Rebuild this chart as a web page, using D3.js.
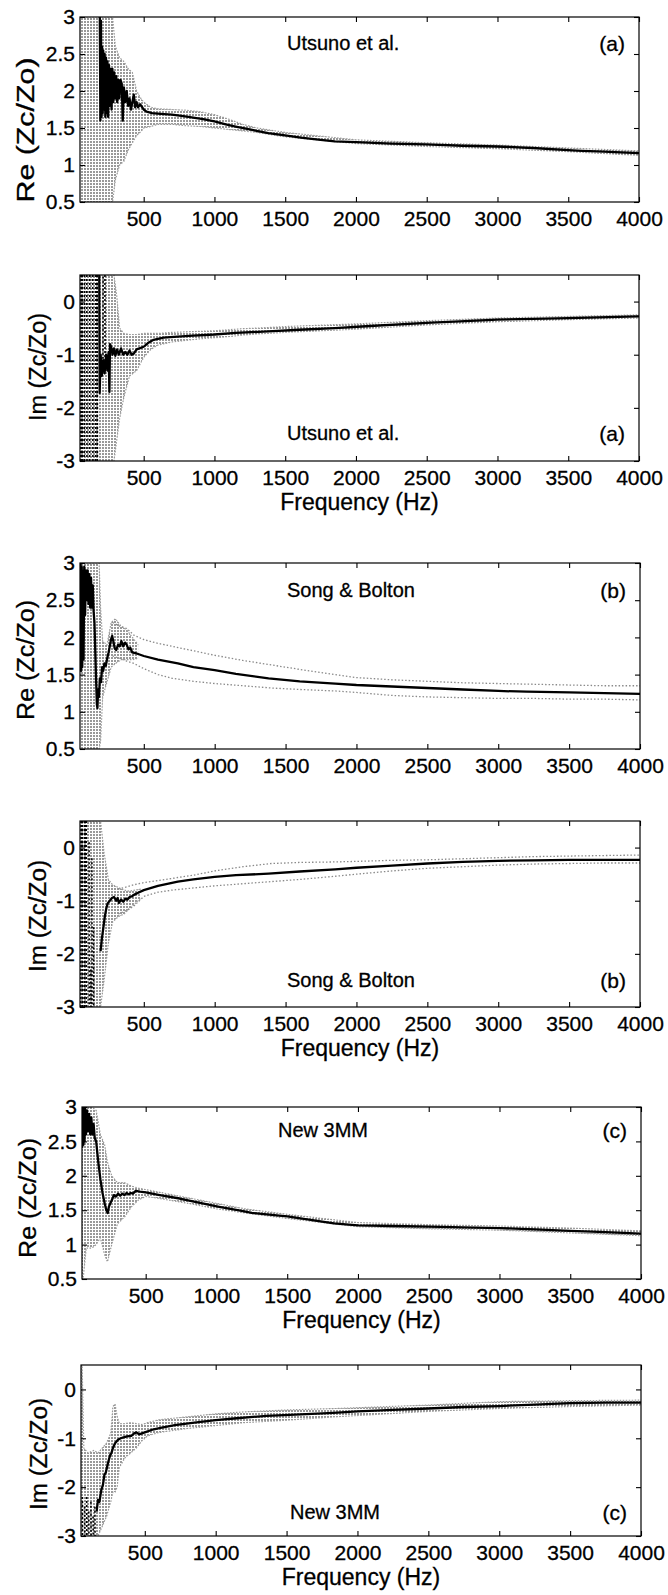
<!DOCTYPE html>
<html>
<head>
<meta charset="utf-8">
<script src="https://cdn.jsdelivr.net/npm/d3@7"></script>
<style>
  body { margin: 0; background: #fff; }
  svg { display: block; background: #fff; }
  text { font-family: "Liberation Sans", Arial, Helvetica, sans-serif; fill: #000; stroke: #000; stroke-width: 0.3px; }
</style>
</head>
<body>
<svg id="fig" width="668" height="1595"></svg>
<script>
// ---- shared axis values ----
var xDomain = [50, 4000],
    xTickVals = [500, 1000, 1500, 2000, 2500, 3000, 3500, 4000],
    reDomain = [0.5, 3],
    imDomain = [-3, 0.5],
    reTicks = [0.5, 1, 1.5, 2, 2.5, 3],
    imTicks = [-3, -2, -1, 0];

// ---- (a) Utsuno et al., real part ----
var reA_meanF = [190, 194, 198, 202, 206, 210, 214, 219, 224, 229, 234, 239, 244, 249, 255, 261, 267, 273, 279, 285, 292, 299, 306, 313, 320, 328, 336, 345, 352, 360, 370, 380, 390, 400, 410, 420, 430, 440, 450, 460, 475, 490, 500, 520, 560, 620, 700, 780, 850, 920, 1000, 1080, 1150, 1250, 1380, 1500, 1610, 1750, 1850, 2000, 2250, 2500, 2750, 3000, 3250, 3500, 3600, 3750, 4000];
var reA_mean  = [3.0, 1.6, 2.95, 1.65, 2.6, 1.7, 2.55, 1.75, 2.5, 1.65, 2.45, 1.7, 2.4, 1.65, 2.35, 1.8, 2.3, 1.75, 2.3, 1.85, 2.25, 1.9, 2.2, 1.85, 2.15, 1.9, 2.15, 2.1, 1.6, 2.05, 1.85, 2.0, 1.8, 1.9, 1.75, 1.85, 1.95, 1.78, 1.85, 1.78, 1.82, 1.78, 1.75, 1.72, 1.7, 1.69, 1.68, 1.66, 1.64, 1.62, 1.59, 1.55, 1.52, 1.48, 1.43, 1.4, 1.37, 1.34, 1.32, 1.31, 1.29, 1.28, 1.26, 1.25, 1.23, 1.2, 1.19, 1.18, 1.16];
var reA_cloudF  = [54, 100, 150, 200, 240, 280, 300, 330, 360, 390, 420, 450, 480, 500, 550, 600, 700, 800, 900, 1000, 1100, 1200, 1300, 1500, 2000, 2500, 3000, 3500, 4000];
var reA_cloudHi = [3, 3, 3, 3, 3, 3, 2.6, 2.45, 2.4, 2.3, 2.25, 2.0, 1.9, 1.85, 1.78, 1.76, 1.75, 1.74, 1.72, 1.68, 1.62, 1.55, 1.5, 1.44, 1.34, 1.3, 1.27, 1.23, 1.19];
var reA_cloudLo = [0.5, 0.5, 0.5, 0.5, 0.5, 0.5, 0.8, 1.0, 1.05, 1.2, 1.3, 1.4, 1.45, 1.5, 1.52, 1.55, 1.55, 1.53, 1.52, 1.5, 1.48, 1.46, 1.44, 1.38, 1.29, 1.25, 1.22, 1.18, 1.13];

// ---- (a) Utsuno et al., imaginary part ----
var imA_meanF = [186, 189, 196, 204, 214, 224, 234, 244, 252, 258, 262, 270, 280, 290, 300, 312, 325, 340, 355, 370, 385, 400, 415, 430, 450, 470, 500, 530, 570, 640, 740, 850, 1000, 1150, 1380, 1600, 1850, 2100, 2500, 3000, 3500, 4000];
var imA_mean  = [0.5, -1.72, -1.0, -1.4, -1.1, -1.35, -1.0, -1.3, -0.95, -1.7, -0.8, -0.85, -1.0, -0.88, -1.02, -0.9, -1.0, -0.88, -1.0, -0.95, -1.0, -0.92, -1.0, -0.98, -0.9, -0.88, -0.85, -0.78, -0.72, -0.68, -0.66, -0.64, -0.62, -0.59, -0.56, -0.53, -0.5, -0.46, -0.4, -0.34, -0.31, -0.28];
var imA_noiseF = [56, 57, 57, 66, 67, 67, 80, 81, 81, 98, 99, 99, 118, 119, 119, 140, 141, 141, 160, 161, 161, 172, 173, 173, 212, 213, 213, 226, 227];
var imA_noise  = [-3, 0.5, null, 0.5, -3, null, -3, 0.5, null, 0.5, -3, null, -3, 0.5, null, 0.5, -3, null, -3, 0.5, null, 0.5, -3, null, -1.3, 0.5, null, 0.5, -1.3];
var imA_cloudF  = [54, 100, 150, 200, 250, 290, 310, 330, 360, 400, 450, 500, 550, 600, 700, 800, 900, 1000, 1100, 1200, 1300, 1500, 2000, 2500, 3000, 3500, 4000];
var imA_cloudHi = [0.5, 0.5, 0.5, 0.5, 0.5, 0.5, 0.1, -0.5, -0.6, -0.62, -0.62, -0.6, -0.6, -0.6, -0.58, -0.57, -0.56, -0.55, -0.53, -0.51, -0.5, -0.47, -0.42, -0.36, -0.31, -0.28, -0.25];
var imA_cloudLo = [-3, -3, -3, -3, -3, -3, -2.6, -2.2, -1.8, -1.4, -1.3, -1.05, -0.9, -0.82, -0.76, -0.73, -0.7, -0.68, -0.66, -0.63, -0.61, -0.58, -0.52, -0.44, -0.38, -0.34, -0.31];

// ---- (b) Song & Bolton, real part ----
var reB_meanF = [54, 58, 62, 66, 70, 75, 80, 86, 92, 98, 104, 110, 116, 122, 128, 134, 140, 146, 152, 158, 164, 169, 173, 178, 184, 190, 198, 206, 214, 222, 232, 242, 252, 262, 270, 277, 285, 295, 305, 318, 330, 342, 355, 368, 380, 392, 405, 418, 440, 470, 500, 600, 740, 850, 1000, 1150, 1380, 1600, 1850, 2000, 2250, 2500, 2750, 3000, 3200, 3500, 3750, 4000];
var reB_mean  = [3.0, 1.55, 2.95, 1.6, 2.9, 1.7, 2.95, 2.3, 2.9, 2.5, 2.9, 2.45, 2.85, 2.4, 2.8, 2.4, 2.7, 2.35, 2.2, 1.8, 1.4, 1.1, 1.05, 1.3, 1.2, 1.45, 1.4, 1.6, 1.55, 1.65, 1.62, 1.72, 1.8, 1.9, 1.98, 2.02, 1.95, 1.85, 1.83, 1.9, 1.88, 1.95, 1.88, 1.93, 1.9, 1.84, 1.86, 1.8, 1.79, 1.77, 1.75, 1.7, 1.65, 1.6, 1.56, 1.51, 1.45, 1.41, 1.38, 1.36, 1.34, 1.32, 1.3, 1.28, 1.27, 1.26, 1.25, 1.24];
var reB_cloudF  = [54, 80, 100, 130, 160, 185, 195, 210, 240, 270, 300, 340, 380, 420, 460];
var reB_cloudHi = [3, 3, 3, 3, 3, 3, 2.4, 1.95, 1.9, 2.2, 2.25, 2.15, 2.1, 2.0, 1.9];
var reB_cloudLo = [0.5, 0.5, 0.5, 0.5, 0.5, 0.5, 0.6, 1.2, 1.4, 1.6, 1.65, 1.7, 1.7, 1.7, 1.72];
var reB_boundF  = [280, 330, 380, 430, 500, 600, 700, 850, 1000, 1200, 1400, 1600, 1850, 2000, 2250, 2500, 2750, 3000, 3250, 3500, 3750, 4000];
var reB_boundHi = [2.2, 2.15, 2.12, 2.03, 1.97, 1.92, 1.88, 1.82, 1.76, 1.69, 1.63, 1.57, 1.5, 1.46, 1.43, 1.41, 1.39, 1.38, 1.37, 1.36, 1.35, 1.35];
var reB_boundLo = [1.75, 1.72, 1.68, 1.65, 1.58, 1.5, 1.45, 1.41, 1.38, 1.35, 1.32, 1.3, 1.28, 1.26, 1.22, 1.2, 1.19, 1.18, 1.18, 1.17, 1.17, 1.16];

// ---- (b) Song & Bolton, imaginary part ----
var imB_meanF = [195, 205, 215, 225, 235, 245, 260, 275, 290, 305, 315, 325, 340, 355, 370, 385, 400, 415, 430, 460, 500, 600, 740, 850, 1000, 1150, 1380, 1600, 1850, 2000, 2250, 2500, 2750, 3000, 3250, 3500, 3750, 4000];
var imB_mean  = [-1.95, -1.7, -1.5, -1.3, -1.15, -1.05, -1.0, -0.95, -0.93, -1.0, -0.95, -1.04, -0.98, -1.02, -0.96, -0.98, -0.93, -0.92, -0.89, -0.85, -0.8, -0.72, -0.64, -0.6, -0.55, -0.52, -0.49, -0.45, -0.41, -0.38, -0.34, -0.3, -0.27, -0.25, -0.24, -0.23, -0.23, -0.23];
var imB_noiseF = [56, 57, 57, 68, 69, 69, 82, 83, 83, 94, 95, 95, 114, 115, 115, 126, 127, 127, 134, 135, 135, 146, 147];
var imB_noise  = [-3, 0.5, null, 0.5, -3, null, -3, 0.5, null, 0.5, -3, null, 0.1, -3, null, -2.3, -3, null, -0.2, -3, null, -1.5, -3];
var imB_cloudF  = [54, 100, 150, 195, 220, 250, 280, 320, 360, 400, 440, 480];
var imB_cloudHi = [0.5, 0.5, 0.5, 0.5, -0.1, -0.6, -0.7, -0.75, -0.8, -0.82, -0.8, -0.78];
var imB_cloudLo = [-3, -3, -3, -3, -2.5, -1.8, -1.4, -1.3, -1.25, -1.15, -1.05, -0.95];
var imB_boundF  = [320, 380, 430, 500, 600, 700, 850, 1000, 1200, 1400, 1600, 1850, 2000, 2250, 2500, 2750, 3000, 3250, 3500, 3750, 4000];
var imB_boundHi = [-0.78, -0.74, -0.7, -0.66, -0.62, -0.58, -0.52, -0.44, -0.36, -0.3, -0.28, -0.27, -0.26, -0.24, -0.23, -0.21, -0.19, -0.17, -0.16, -0.15, -0.14];
var imB_boundLo = [-1.25, -1.18, -1.1, -0.92, -0.84, -0.8, -0.76, -0.72, -0.68, -0.64, -0.6, -0.54, -0.5, -0.44, -0.39, -0.36, -0.33, -0.31, -0.3, -0.29, -0.29];

// ---- (c) New 3MM, real part ----
var reC_meanF = [48, 52, 56, 60, 64, 68, 72, 78, 85, 92, 100, 108, 116, 124, 132, 140, 150, 165, 180, 195, 210, 222, 232, 240, 250, 262, 275, 290, 305, 320, 335, 350, 365, 380, 395, 410, 430, 460, 500, 600, 740, 850, 1020, 1150, 1250, 1500, 1830, 2000, 2250, 2500, 2750, 3000, 3250, 3500, 3750, 4000];
var reC_mean  = [3.0, 2.42, 2.95, 2.45, 3.0, 2.5, 2.98, 2.6, 2.95, 2.65, 2.9, 2.6, 2.85, 2.6, 2.75, 2.55, 2.5, 2.2, 1.95, 1.75, 1.6, 1.5, 1.46, 1.55, 1.6, 1.65, 1.72, 1.7, 1.74, 1.71, 1.74, 1.72, 1.75, 1.73, 1.75, 1.74, 1.78, 1.77, 1.76, 1.72, 1.67, 1.62, 1.55, 1.5, 1.46, 1.41, 1.31, 1.28, 1.27, 1.26, 1.25, 1.24, 1.22, 1.2, 1.18, 1.16];
var reC_cloudF  = [47, 58, 80, 120, 150, 180, 210, 230, 260, 300, 350, 400, 450, 500, 600, 800, 1000, 1200, 1500, 2000, 2500, 3000, 3500, 4000];
var reC_cloudHi = [3, 3, 3, 3, 2.95, 2.6, 2.45, 2.2, 2.0, 1.9, 1.9, 1.85, 1.82, 1.8, 1.76, 1.68, 1.6, 1.52, 1.44, 1.32, 1.29, 1.27, 1.24, 1.2];
var reC_cloudLo = [0.5, 0.5, 0.95, 0.95, 1.0, 1.1, 0.85, 0.75, 1.0, 1.3, 1.4, 1.55, 1.65, 1.7, 1.67, 1.6, 1.52, 1.46, 1.38, 1.26, 1.23, 1.21, 1.17, 1.13];

// ---- (c) New 3MM, imaginary part ----
var imC_meanF = [160, 170, 180, 193, 205, 215, 225, 240, 255, 265, 275, 290, 311, 330, 350, 375, 405, 425, 441, 460, 480, 500, 547, 620, 712, 850, 1000, 1150, 1360, 1600, 1830, 2000, 2250, 2500, 2750, 3000, 3250, 3500, 3750, 4000];
var imC_mean  = [-2.5, -2.26, -2.3, -2.06, -1.95, -1.75, -1.7, -1.51, -1.35, -1.3, -1.2, -1.1, -1.03, -1.0, -0.98, -0.96, -0.95, -0.9, -0.88, -0.92, -0.9, -0.88, -0.83, -0.78, -0.73, -0.68, -0.63, -0.59, -0.54, -0.51, -0.48, -0.45, -0.42, -0.39, -0.36, -0.34, -0.31, -0.28, -0.27, -0.27];
var imC_noiseF = [60, 61, 61, 75, 76, 76, 90, 91, 91, 105, 106, 106, 120, 121, 121, 135, 136, 136, 148, 149];
var imC_noise  = [-2.2, -3, null, -2.4, -3, null, -2.2, -3, null, -2.5, -3, null, -2.3, -3, null, -2.6, -3, null, -2.4, -3];
var imC_cloudF  = [47, 58, 70, 100, 140, 170, 200, 230, 260, 275, 290, 305, 320, 360, 400, 440, 480, 520, 600, 800, 1000, 1200, 1500, 1850, 2500, 3000, 3500, 4000];
var imC_cloudHi = [0.5, 0.5, -1.2, -1.3, -1.25, -1.3, -1.2, -1.1, -0.9, -0.35, -0.3, -0.55, -0.7, -0.7, -0.68, -0.7, -0.72, -0.68, -0.62, -0.56, -0.5, -0.46, -0.42, -0.39, -0.32, -0.25, -0.23, -0.22];
var imC_cloudLo = [-3, -3, -3, -3, -3, -3, -2.8, -2.6, -2.3, -2.1, -2.1, -2.0, -1.6, -1.4, -1.3, -1.2, -1.05, -0.95, -0.88, -0.8, -0.74, -0.68, -0.63, -0.56, -0.45, -0.39, -0.35, -0.32];

// series table built from the arrays above
var series = {
    reA: {meanF: reA_meanF, mean: reA_mean, cloudF: reA_cloudF, cloudHi: reA_cloudHi, cloudLo: reA_cloudLo},
    imA: {meanF: imA_meanF, mean: imA_mean, cloudF: imA_cloudF, cloudHi: imA_cloudHi, cloudLo: imA_cloudLo, noiseF: imA_noiseF, noise: imA_noise},
    reB: {meanF: reB_meanF, mean: reB_mean, cloudF: reB_cloudF, cloudHi: reB_cloudHi, cloudLo: reB_cloudLo, boundF: reB_boundF, boundHi: reB_boundHi, boundLo: reB_boundLo},
    imB: {meanF: imB_meanF, mean: imB_mean, cloudF: imB_cloudF, cloudHi: imB_cloudHi, cloudLo: imB_cloudLo, noiseF: imB_noiseF, noise: imB_noise, boundF: imB_boundF, boundHi: imB_boundHi, boundLo: imB_boundLo},
    reC: {meanF: reC_meanF, mean: reC_mean, cloudF: reC_cloudF, cloudHi: reC_cloudHi, cloudLo: reC_cloudLo},
    imC: {meanF: imC_meanF, mean: imC_mean, cloudF: imC_cloudF, cloudHi: imC_cloudHi, cloudLo: imC_cloudLo, noiseF: imC_noiseF, noise: imC_noise}
};

// panel layout (pixels)
var layout = [
    {key: "reA", im: false, top: 17,   bottom: 202,  left: 80, right: 639, name: "Utsuno et al.", tag: "(a)", nameX: 287, textY: 43,   labX: 26, labY: 130,  labLen: 145, freq: false},
    {key: "imA", im: true,  top: 275,  bottom: 461,  left: 80, right: 639, name: "Utsuno et al.", tag: "(a)", nameX: 287, textY: 433,  labX: 38, labY: 367,  labLen: 108, freq: true},
    {key: "reB", im: false, top: 563,  bottom: 749,  left: 80, right: 640, name: "Song & Bolton", tag: "(b)", nameX: 287, textY: 590,  labX: 26, labY: 660,  labLen: 120, freq: false},
    {key: "imB", im: true,  top: 821,  bottom: 1007, left: 80, right: 640, name: "Song & Bolton", tag: "(b)", nameX: 287, textY: 980,  labX: 38, labY: 916,  labLen: 112, freq: true},
    {key: "reC", im: false, top: 1107, bottom: 1279, left: 82, right: 641, name: "New 3MM",       tag: "(c)", nameX: 278, textY: 1130, labX: 28, labY: 1198, labLen: 120, freq: true},
    {key: "imC", im: true,  top: 1365, bottom: 1536, left: 81, right: 641, name: "New 3MM",       tag: "(c)", nameX: 290, textY: 1512, labX: 39, labY: 1454, labLen: 112, freq: true}
];

var svg = d3.select("#fig"),
    defs = svg.append("defs");

// speckled grey used for the spread of the individual measurements
var pat = defs.append("pattern").attr("id", "dots")
    .attr("patternUnits", "userSpaceOnUse").attr("width", 3).attr("height", 3);
pat.append("rect").attr("width", 2).attr("height", 2).attr("fill", "#999");

function zip(fs, vs) {
    return fs.map(function (f, k) { return {f: f, v: vs[k]}; });
}

layout.forEach(function (p, i) {
    var s = series[p.key];
    var x = d3.scaleLinear().domain(xDomain).range([p.left, p.right]);
    var y = d3.scaleLinear().domain(p.im ? imDomain : reDomain).range([p.bottom, p.top]);

    defs.append("clipPath").attr("id", "clip" + i)
        .append("rect")
        .attr("x", p.left).attr("y", p.top)
        .attr("width", p.right - p.left).attr("height", p.bottom - p.top);

    var g = svg.append("g").attr("clip-path", "url(#clip" + i + ")");

    var line = d3.line()
        .defined(function (d) { return d.v != null; })
        .x(function (d) { return x(d.f); })
        .y(function (d) { return y(d.v); });

    // grey cloud
    var cloud = s.cloudF.map(function (f, k) { return {f: f, hi: s.cloudHi[k], lo: s.cloudLo[k]}; });
    g.append("path").datum(cloud)
        .attr("d", d3.area().x(function (d) { return x(d.f); })
            .y0(function (d) { return y(d.lo); })
            .y1(function (d) { return y(d.hi); }))
        .attr("fill", "url(#dots)");
    [s.cloudHi, s.cloudLo].forEach(function (vals) {
        g.append("path").datum(zip(s.cloudF, vals)).attr("d", line)
            .attr("fill", "none").attr("stroke", "#999")
            .attr("stroke-width", 1.2).attr("stroke-dasharray", "1.5,1.5");
    });

    // dotted grey bounds
    if (s.boundF) {
        [s.boundHi, s.boundLo].forEach(function (vals) {
            g.append("path").datum(zip(s.boundF, vals)).attr("d", line)
                .attr("fill", "none").attr("stroke", "#8a8a8a")
                .attr("stroke-width", 1.3).attr("stroke-dasharray", "1.5,2");
        });
    }

    // black dotted spikes at low frequency
    if (s.noiseF) {
        g.append("path").datum(zip(s.noiseF, s.noise)).attr("d", line)
            .attr("fill", "none").attr("stroke", "#000")
            .attr("stroke-width", 1.6).attr("stroke-dasharray", "2,2");
    }

    // mean curve
    g.append("path").datum(zip(s.meanF, s.mean)).attr("d", line)
        .attr("fill", "none").attr("stroke", "#000")
        .attr("stroke-width", 2.3).attr("stroke-linejoin", "round");

    // frame
    svg.append("rect")
        .attr("x", p.left).attr("y", p.top)
        .attr("width", p.right - p.left).attr("height", p.bottom - p.top)
        .attr("fill", "none").attr("stroke", "#000").attr("stroke-width", 1.2);

    var yTicks = p.im ? imTicks : reTicks;

    function styleAxis(ax) {
        ax.select(".domain").remove();
        ax.selectAll("line").attr("stroke", "#000").attr("stroke-width", 1.1);
        ax.selectAll("text").attr("font-size", 21).attr("font-family", null);
    }

    svg.append("g").attr("transform", "translate(0," + p.bottom + ")")
        .call(d3.axisBottom(x).tickValues(xTickVals).tickSize(-5).tickPadding(9)
            .tickFormat(function (d) { return String(d); }))
        .call(styleAxis);
    svg.append("g").attr("transform", "translate(0," + p.top + ")")
        .call(d3.axisTop(x).tickValues(xTickVals).tickSize(-5).tickFormat(""))
        .call(styleAxis);
    svg.append("g").attr("transform", "translate(" + p.left + ",0)")
        .call(d3.axisLeft(y).tickValues(yTicks).tickSize(-5).tickPadding(5)
            .tickFormat(function (d) { return String(d); }))
        .call(styleAxis);
    svg.append("g").attr("transform", "translate(" + p.right + ",0)")
        .call(d3.axisRight(y).tickValues(yTicks).tickSize(-5).tickFormat(""))
        .call(styleAxis);

    // y label
    svg.append("text")
        .attr("transform", "translate(" + p.labX + "," + p.labY + ") rotate(-90)")
        .attr("text-anchor", "middle").attr("dominant-baseline", "central")
        .attr("font-size", 23)
        .attr("textLength", p.labLen).attr("lengthAdjust", "spacingAndGlyphs")
        .text(p.im ? "Im (Zc/Zo)" : "Re (Zc/Zo)");

    // annotations
    svg.append("text").attr("x", p.nameX).attr("y", p.textY)
        .attr("dominant-baseline", "central").attr("font-size", 20)
        .text(p.name);
    svg.append("text").attr("x", p.right - 14).attr("y", p.textY)
        .attr("text-anchor", "end").attr("dominant-baseline", "central").attr("font-size", 21)
        .text(p.tag);

    if (p.freq) {
        svg.append("text").attr("x", (p.left + p.right) / 2).attr("y", p.bottom + 41)
            .attr("text-anchor", "middle").attr("dominant-baseline", "central")
            .attr("font-size", 23)
            .text("Frequency (Hz)");
    }
});
</script>
</body>
</html>
